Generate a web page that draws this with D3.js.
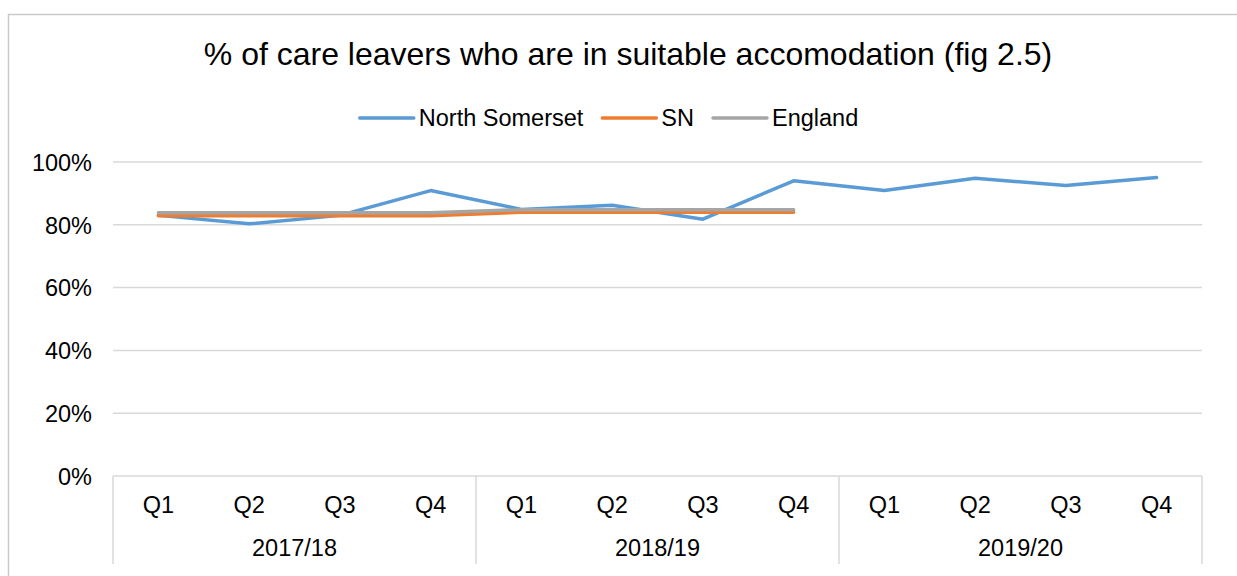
<!DOCTYPE html>
<html><head><meta charset="utf-8">
<script src="https://cdn.jsdelivr.net/npm/d3@7"></script>
<style>body{margin:0;background:#fff;} svg{display:block;font-family:"Liberation Sans",Arial,sans-serif;}</style>
</head><body>
<svg id="chart" width="1237" height="576"></svg>
<script>
const title = "% of care leavers who are in suitable accomodation (fig 2.5)";
const years = ["2017/18","2018/19","2019/20"];
const quarters = ["Q1","Q2","Q3","Q4"];
const northSomerset = [0.83,0.803,0.83,0.909,0.849,0.862,0.818,0.94,0.909,0.948,0.925,0.951];
const sn = [0.829,0.829,0.829,0.829,0.84,0.84,0.84,0.84,null,null,null,null];
const england = [0.838,0.838,0.838,0.838,0.848,0.848,0.848,0.848,null,null,null,null];
const yTicks = [0,0.2,0.4,0.6,0.8,1.0];
const seriesNames = ["North Somerset","SN","England"];
const colors = ["#5B9BD5","#ED7D31","#A5A5A5"];

(function(){
const categories = [];
years.forEach(yr => quarters.forEach(q => categories.push(yr + " " + q)));
const seriesData = [northSomerset, sn, england];

const svg = d3.select("#chart");
const W = 1237, H = 576;
const mLeft = 113, mRight = 1202, mTop = 162, mBottom = 476;
const axisFs = 23.5;

// outer border
svg.append("rect").attr("x",8.5).attr("y",14.5).attr("width",W+20).attr("height",H+20)
  .attr("fill","none").attr("stroke","#C9C9C9").attr("stroke-width",1.5);

const x = d3.scaleBand().domain(categories).range([mLeft,mRight]).padding(0);
const y = d3.scaleLinear().domain([0,1]).range([mBottom,mTop]);

// gridlines
svg.append("g").selectAll("line").data(yTicks).join("line")
  .attr("x1",mLeft).attr("x2",mRight)
  .attr("y1",d=>y(d)).attr("y2",d=>y(d))
  .attr("stroke","#D9D9D9").attr("stroke-width",1.5);

// y axis labels
const yAxis = d3.axisLeft(y).tickValues(yTicks).tickFormat(d3.format(".0%")).tickSize(0).tickPadding(21);
const ya = svg.append("g").attr("transform",`translate(${mLeft},0)`).call(yAxis);
ya.select(".domain").remove();
ya.selectAll("text").attr("font-size",axisFs).attr("fill","#000").attr("font-family","Liberation Sans, Arial, sans-serif").attr("dy","0.35em");

// category axis: quarters
const xAxis = d3.axisBottom(x).tickFormat(d => d.split(" ")[1]).tickSize(0).tickPadding(0);
const xa = svg.append("g").attr("transform",`translate(0,${mBottom})`).call(xAxis);
xa.select(".domain").remove();
xa.selectAll("text").attr("font-size",axisFs).attr("fill","#000").attr("font-family","Liberation Sans, Arial, sans-serif")
  .attr("y",29).attr("dy","0.35em");

// group separators
const groupX = years.map(yr => x(yr + " Q1"));
groupX.push(mRight);
svg.append("g").selectAll("line").data(groupX).join("line")
  .attr("x1",d=>d).attr("x2",d=>d).attr("y1",mBottom).attr("y2",564)
  .attr("stroke","#D9D9D9").attr("stroke-width",1.5);

// year labels
svg.append("g").selectAll("text").data(years).join("text")
  .attr("x", yr => (x(yr+" Q1") + x(yr+" Q4") + x.bandwidth())/2)
  .attr("y", 548).attr("dy","0.35em").attr("text-anchor","middle")
  .attr("font-size",axisFs).attr("fill","#000").text(d=>d);

// lines
const line = d3.line()
  .defined(d => d.v !== null)
  .x(d => x(d.c) + x.bandwidth()/2)
  .y(d => y(d.v));
seriesData.forEach((arr,i) => {
  svg.append("path")
    .datum(arr.map((v,j)=>({c:categories[j], v})))
    .attr("d", line).attr("fill","none")
    .attr("stroke", colors[i]).attr("stroke-width",3.5)
    .attr("stroke-linejoin","round").attr("stroke-linecap","round");
});

// title
svg.append("text").attr("x",628).attr("y",65).attr("text-anchor","middle")
  .attr("font-size",32).attr("fill","#000").text(title);

// legend
const lg = svg.append("g");
const fs = 23.5, lineLen = 54, gapLT = 5, gapItem = 19;
const items = seriesNames.map((n,i) => {
  const t = lg.append("text").attr("font-size",fs).text(n);
  const w = t.node().getComputedTextLength();
  return {n, i, t, w};
});
const total = d3.sum(items, d => lineLen + gapLT + d.w) + gapItem*(items.length-1);
let cx = 609 - total/2;
items.forEach(d => {
  lg.append("line").attr("x1",cx).attr("x2",cx+lineLen).attr("y1",118).attr("y2",118)
    .attr("stroke",colors[d.i]).attr("stroke-width",3.5).attr("stroke-linecap","round");
  d.t.attr("x",cx+lineLen+gapLT).attr("y",118).attr("dy","0.35em").attr("fill","#000");
  cx += lineLen + gapLT + d.w + gapItem;
});
})();
</script>
</body></html>
